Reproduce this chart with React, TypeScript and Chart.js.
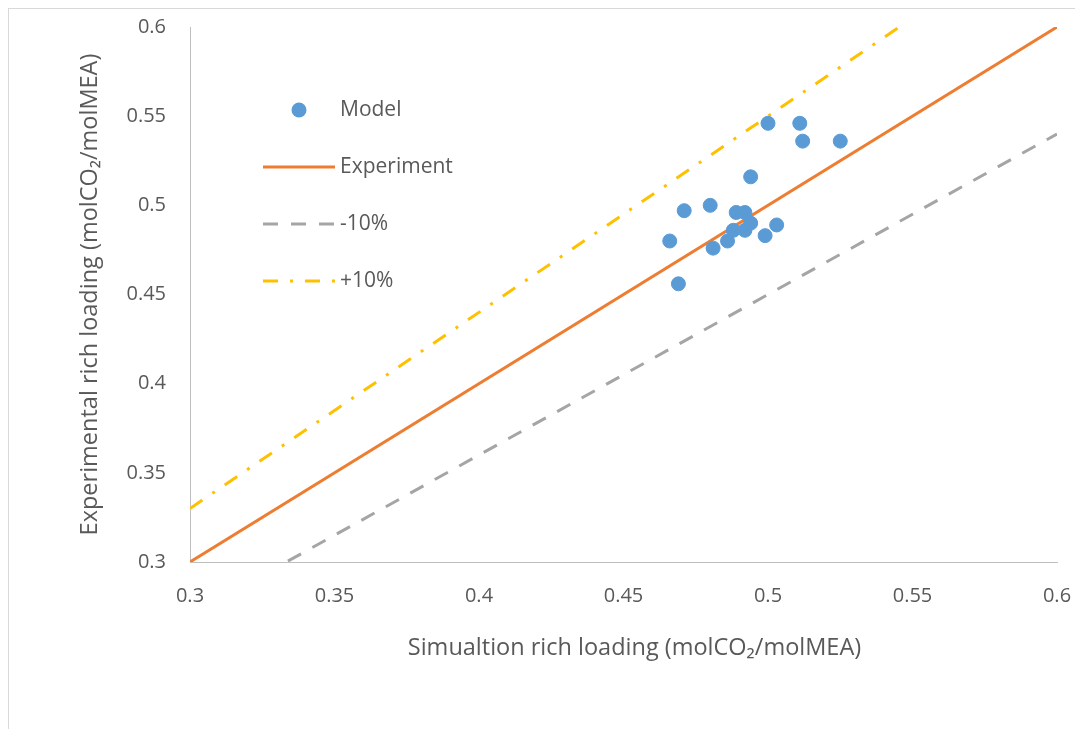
import React, { useEffect, useRef } from "react";
import { Chart, registerables } from "chart.js";

Chart.register(...registerables);

// ---- Data ----
const modelX = [0.466, 0.469, 0.471, 0.480, 0.481, 0.486, 0.488, 0.489, 0.492, 0.492, 0.494, 0.494, 0.499, 0.500, 0.503, 0.511, 0.512, 0.525];
const modelY = [0.480, 0.456, 0.497, 0.500, 0.476, 0.480, 0.486, 0.496, 0.496, 0.486, 0.490, 0.516, 0.483, 0.546, 0.489, 0.546, 0.536, 0.536];

const lineX = [0.3, 0.6];
const experimentY = [0.3, 0.6];
const minus10Y = [0.27, 0.54];
const plus10Y = [0.33, 0.66];

const tickValues = [0.3, 0.35, 0.4, 0.45, 0.5, 0.55, 0.6];
const tickLabels = ["0.3", "0.35", "0.4", "0.45", "0.5", "0.55", "0.6"];

const seriesNames = ["Model", "Experiment", "-10%", "+10%"];
const xTitle = "Simualtion rich loading (molCO₂/molMEA)";
const yTitle = "Experimental rich loading (molCO₂/molMEA)";

const BLUE = "#5B9BD5";
const ORANGE = "#ED7D31";
const GRAY = "#A5A5A5";
const YELLOW = "#FFC000";
const TEXT = "#595959";
const FONT = "'Open Sans', sans-serif";

const toPts = (xs: number[], ys: number[]) => xs.map((x, i) => ({ x, y: ys[i] }));

const legendPlugin = {
  id: "insideLegend",
  afterDraw(chart: any) {
    const { ctx, chartArea } = chart;
    const left = chartArea.left + 73;
    const top = chartArea.top + 83;
    const rowGap = 57;
    const lineLen = 72;
    const textX = left + 77;
    ctx.save();
    chart.data.datasets.forEach((ds: any, i: number) => {
      const y = top + i * rowGap;
      if (i === 0) {
        ctx.beginPath();
        ctx.fillStyle = ds.backgroundColor;
        ctx.arc(left + lineLen / 2, y, 7.5, 0, Math.PI * 2);
        ctx.fill();
      } else {
        ctx.beginPath();
        ctx.strokeStyle = ds.borderColor;
        ctx.lineWidth = ds.borderWidth;
        ctx.lineCap = "butt";
        ctx.setLineDash(ds.borderDash || []);
        ctx.moveTo(left, y);
        ctx.lineTo(left + lineLen, y);
        ctx.stroke();
        ctx.setLineDash([]);
      }
      ctx.fillStyle = TEXT;
      ctx.font = `21px ${FONT}`;
      ctx.textBaseline = "middle";
      ctx.textAlign = "left";
      ctx.fillText(ds.label, textX, y);
    });
    // x-axis title (slightly right of centre, as in the original)
    ctx.font = `23.5px ${FONT}`;
    ctx.textAlign = "center";
    ctx.textBaseline = "middle";
    ctx.fillStyle = TEXT;
    ctx.fillText(xTitle, (chartArea.left + chartArea.right) / 2 + 11, chartArea.bottom + 86);
    ctx.restore();
  },
};

export default function App() {
  const ref = useRef<HTMLCanvasElement | null>(null);

  useEffect(() => {
    if (!ref.current) return;
    const chart = new Chart(ref.current, {
      type: "scatter",
      data: {
        datasets: [
          {
            label: seriesNames[0],
            data: toPts(modelX, modelY),
            backgroundColor: BLUE,
            borderColor: BLUE,
            borderWidth: 1,
            pointRadius: 7,
            showLine: false,
            order: 0,
          },
          {
            label: seriesNames[1],
            data: toPts(lineX, experimentY),
            borderColor: ORANGE,
            backgroundColor: ORANGE,
            borderWidth: 3,
            showLine: true,
            pointRadius: 0,
            order: 1,
          },
          {
            label: seriesNames[2],
            data: toPts(lineX, minus10Y),
            borderColor: GRAY,
            backgroundColor: GRAY,
            borderWidth: 3,
            borderDash: [15, 13],
            showLine: true,
            pointRadius: 0,
            order: 2,
          },
          {
            label: seriesNames[3],
            data: toPts(lineX, plus10Y),
            borderColor: YELLOW,
            backgroundColor: YELLOW,
            borderWidth: 3,
            borderDash: [15, 12, 3, 12],
            showLine: true,
            pointRadius: 0,
            order: 3,
          },
        ],
      },
      options: {
        animation: false,
        responsive: false,
        maintainAspectRatio: false,
        clip: 0 as any,
        layout: { padding: { left: 67, right: 26, top: 18, bottom: 67 } },
        plugins: {
          legend: { display: false },
          tooltip: { enabled: false },
        },
        scales: {
          x: {
            type: "linear",
            min: 0.3,
            max: 0.6,
            afterFit: (s: any) => {
              s.height = 100;
              s.paddingLeft = 0;
              s.paddingRight = 0;
            },
            afterBuildTicks: (s: any) => {
              s.ticks = tickValues.map((v) => ({ value: v }));
            },
            ticks: {
              color: TEXT,
              font: { family: FONT, size: 20 },
              padding: 22,
              maxRotation: 0,
              callback: (_v: any, i: number) => tickLabels[i],
            },
            grid: { display: false, drawTicks: false },
            border: { display: true, color: "#BFBFBF", width: 1 },
            title: { display: false },
          },
          y: {
            type: "linear",
            min: 0.3,
            max: 0.6,
            afterFit: (s: any) => {
              s.width = 114;
              s.paddingTop = 0;
              s.paddingBottom = 0;
            },
            afterBuildTicks: (s: any) => {
              s.ticks = tickValues.map((v) => ({ value: v }));
            },
            ticks: {
              color: TEXT,
              font: { family: FONT, size: 20 },
              padding: 24,
              callback: (_v: any, i: number) => tickLabels[i],
            },
            grid: { display: false, drawTicks: false },
            border: { display: true, color: "#BFBFBF", width: 1 },
            title: {
              display: true,
              text: yTitle,
              color: TEXT,
              font: { family: FONT, size: 23.5 },
              padding: 0,
            },
          },
        },
      },
      plugins: [legendPlugin],
    });
    return () => chart.destroy();
  }, []);

  return (
    <div
      style={{
        width: 1074,
        height: 720,
        borderTop: "1px solid #D9D9D9",
        borderLeft: "1px solid #D9D9D9",
        background: "#fff",
        overflow: "hidden",
      }}
    >
      <canvas ref={ref} width={1074} height={720} style={{ display: "block" }} />
    </div>
  );
}
